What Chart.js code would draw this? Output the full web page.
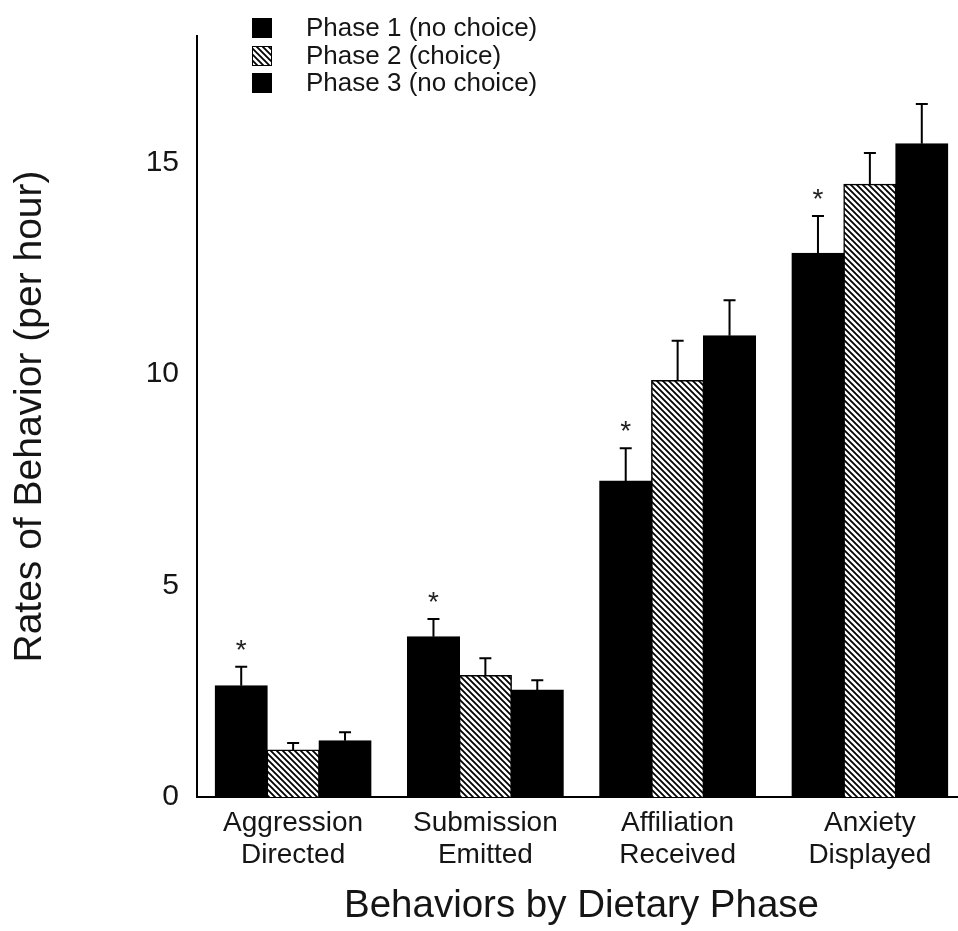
<!DOCTYPE html>
<html>
<head>
<meta charset="utf-8">
<script src="https://cdn.jsdelivr.net/npm/chart.js@4/dist/chart.umd.min.js"></script>
<style>
  html, body { margin: 0; padding: 0; background: #fff; overflow: hidden; }
  #wrap { width: 958px; height: 931px; overflow: hidden; position: relative; }
  canvas { display: block; }
</style>
</head>
<body>
<div id="wrap"><canvas id="c" width="966" height="931"></canvas></div>
<script>
const categories = [["Aggression", "Directed"], ["Submission", "Emitted"], ["Affiliation", "Received"], ["Anxiety", "Displayed"]];
const seriesLabels = ["Phase 1 (no choice)", "Phase 2 (choice)", "Phase 3 (no choice)"];
const phase1 = [2.63, 3.79, 7.47, 12.86];
const phase2 = [1.11, 2.87, 9.85, 14.49];
const phase3 = [1.33, 2.53, 10.91, 15.45];
const phase1Err = [0.45, 0.42, 0.78, 0.88];
const phase2Err = [0.17, 0.41, 0.94, 0.74];
const phase3Err = [0.20, 0.23, 0.84, 0.94];
const significant = [true, true, true, true]; // asterisks over Phase 1
const yTicks = [0, 5, 10, 15];
const yMax = 18;

const FONT = "'Liberation Sans', Arial, Helvetica, sans-serif";
const TEXT = "#151515";

function makeHatch() {
  const s = 6;
  const pc = document.createElement('canvas');
  pc.width = s; pc.height = s;
  const p = pc.getContext('2d');
  p.fillStyle = '#fff';
  p.fillRect(0, 0, s, s);
  p.strokeStyle = '#000';
  p.lineWidth = 1.8;
  p.beginPath();
  for (let k = -1; k <= 1; k++) {
    p.moveTo(k * s - 1, -1);
    p.lineTo(k * s + s + 1, s + 1);
  }
  p.stroke();
  return document.getElementById('c').getContext('2d').createPattern(pc, 'repeat');
}
const hatch = makeHatch();

const errors = [phase1Err, phase2Err, phase3Err];

const extras = {
  id: 'extras',
  afterDatasetsDraw(chart) {
    const ctx = chart.ctx;
    const y = chart.scales.y;
    ctx.save();
    // error bars (upper only)
    chart.data.datasets.forEach((ds, i) => {
      const meta = chart.getDatasetMeta(i);
      meta.data.forEach((bar, j) => {
        const top = y.getPixelForValue(ds.data[j] + errors[i][j]);
        ctx.strokeStyle = '#000';
        ctx.lineWidth = 2;
        ctx.beginPath();
        ctx.moveTo(bar.x, bar.y);
        ctx.lineTo(bar.x, top);
        ctx.moveTo(bar.x - 6, top);
        ctx.lineTo(bar.x + 6, top);
        ctx.stroke();
        if (i === 0 && significant[j]) {
          ctx.fillStyle = '#222';
          ctx.font = "28px " + FONT;
          ctx.textAlign = 'center';
          ctx.textBaseline = 'alphabetic';
          ctx.fillText('*', bar.x, top - 8);
        }
      });
    });
    // legend
    const rows = [28, 56, 83];
    chart.data.datasets.forEach((ds, i) => {
      const cy = rows[i];
      ctx.fillStyle = ds.backgroundColor;
      ctx.fillRect(252, cy - 10, 20, 20);
      ctx.strokeStyle = '#000';
      ctx.lineWidth = 1;
      ctx.strokeRect(252.5, cy - 9.5, 19, 19);
      ctx.fillStyle = TEXT;
      ctx.font = "26px " + FONT;
      ctx.textAlign = 'left';
      ctx.textBaseline = 'middle';
      ctx.fillText(ds.label, 306, cy + 1);
    });
    ctx.restore();
  }
};

new Chart(document.getElementById('c'), {
  type: 'bar',
  data: {
    labels: categories,
    datasets: [
      { label: seriesLabels[0], data: phase1, backgroundColor: '#000', borderColor: '#000', borderWidth: 1.5, inflateAmount: 0.6 },
      { label: seriesLabels[1], data: phase2, backgroundColor: hatch, borderColor: '#000', borderWidth: 1.5, inflateAmount: 0.6 },
      { label: seriesLabels[2], data: phase3, backgroundColor: '#000', borderColor: '#000', borderWidth: 1.5, inflateAmount: 0.6 }
    ]
  },
  options: {
    responsive: false,
    animation: false,
    devicePixelRatio: 1,
    layout: { padding: { top: 27, left: 0, right: 0, bottom: 0 } },
    datasets: { bar: { categoryPercentage: 0.81, barPercentage: 1.0 } },
    plugins: { legend: { display: false }, tooltip: { enabled: false } },
    scales: {
      x: {
        grid: { display: false, drawTicks: false },
        border: { display: true, color: '#000', width: 2 },
        ticks: { color: TEXT, font: { family: FONT, size: 28, lineHeight: 1.15 }, padding: 10, maxRotation: 0 },
        title: { display: true, text: 'Behaviors by Dietary Phase', color: TEXT, font: { family: FONT, size: 38.5 }, padding: { top: 0, bottom: 2 } },
        afterFit(scale) { scale.height = 134; }
      },
      y: {
        min: 0, max: yMax,
        grid: { display: false, drawTicks: false },
        border: { display: true, color: '#000', width: 2 },
        ticks: { color: TEXT, font: { family: FONT, size: 30 }, padding: 18, stepSize: 5 },
        afterBuildTicks(scale) { scale.ticks = yTicks.map(v => ({ value: v })); },
        title: { display: true, text: 'Rates of Behavior (per hour)', color: TEXT, font: { family: FONT, size: 39 }, padding: { top: 7, bottom: 0 } },
        afterFit(scale) { scale.width = 197; }
      }
    }
  },
  plugins: [extras]
});
</script>
</body>
</html>
